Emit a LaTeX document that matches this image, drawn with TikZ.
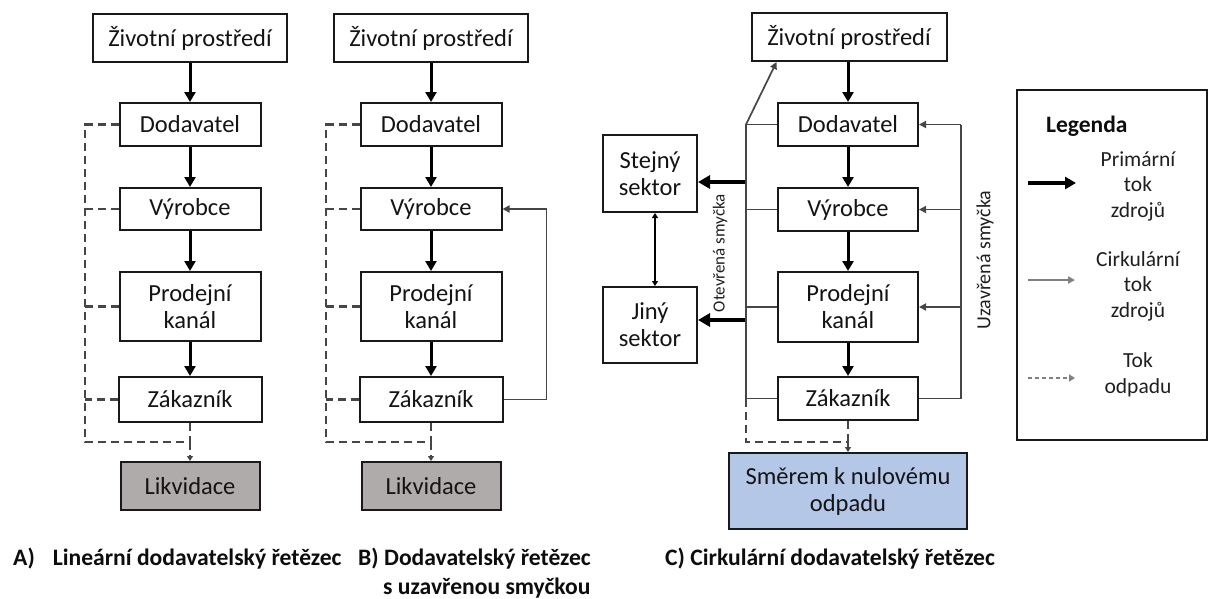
\documentclass[tikz,border=0pt]{standalone}
\usepackage{fontspec}
\setmainfont{Carlito}
\usetikzlibrary{arrows.meta}
\definecolor{boxline}{RGB}{25,25,25}
\definecolor{likgray}{RGB}{175,171,170}
\definecolor{smerblue}{RGB}{180,199,231}
\definecolor{circgray}{RGB}{70,70,70}
\definecolor{wastegray}{RGB}{70,70,70}
\begin{document}
\begin{tikzpicture}[x=1pt,y=-1pt,
  box/.style={draw=boxline,line width=2pt,fill=white,inner sep=0pt,align=center,text=black!92,font=\fontsize{24.5}{27}\selectfont},
  primary/.style={line width=3pt,-{Triangle[length=10pt,width=11pt]}},
  sectorarrow/.style={line width=3.4pt,-{Triangle[length=12pt,width=13pt]}},
  circ/.style={draw=circgray,line width=1.7pt},
  circarrow/.style={circ,-{Triangle[length=7pt,width=7pt]}},
  waste/.style={draw=wastegray,line width=2.4pt,dash pattern=on 8pt off 5pt},
  wastearrow/.style={waste,-{Triangle[length=5pt,width=6pt]}},
  caption/.style={font=\bfseries\fontsize{23.6}{27}\selectfont,inner sep=0pt,anchor=base west,text=black!95},
  legtext/.style={align=center,inner sep=0pt,text=black!88,font=\fontsize{21.5}{25.5}\selectfont}
]
\useasboundingbox (0,0) rectangle (1211,598);

% ---------- Panels A and B ----------
\foreach \p/\dx in {A/0,B/241}{
  \node[box,minimum width=194pt,minimum height=48pt] (env\p) at (190+\dx,38) {Životní prostředí};
  \node[box,minimum width=141pt,minimum height=43pt] (dod\p) at (190+\dx,124.5) {Dodavatel};
  \node[box,minimum width=141pt,minimum height=42pt] (vyr\p) at (190+\dx,209) {Výrobce};
  \node[box,minimum width=141pt,minimum height=69pt] (pro\p) at (190+\dx,306.5) {Prodejní\\kanál};
  \node[box,minimum width=143pt,minimum height=45pt] (zak\p) at (190+\dx,399.5) {Zákazník};
  \node[box,fill=likgray,minimum width=139pt,minimum height=48pt] (lik\p) at (190+\dx,486) {Likvidace};
  \draw[primary] (env\p) -- (dod\p);
  \draw[primary] (dod\p) -- (vyr\p);
  \draw[primary] (vyr\p) -- (pro\p);
  \draw[primary] (pro\p) -- (zak\p);
  \coordinate (cor\p) at (85+\dx,442);
  \coordinate (mid\p) at (190+\dx,442);
  \draw[waste] (dod\p.west) -| (cor\p) -- (mid\p);
  \draw[waste] (vyr\p.west) -- (vyr\p.west -| cor\p);
  \draw[waste] (pro\p.west) -- (pro\p.west -| cor\p);
  \draw[waste] (zak\p.west) -- (zak\p.west -| cor\p);
  \draw[waste] (zak\p.south) -- (mid\p);
  \draw[wastearrow] (mid\p) -- (lik\p.north);
}
% closed loop of panel B
\draw[circarrow] (zakB.east) -- ++(43,0) |- (vyrB.east);

% ---------- Panel C ----------
\node[box,minimum width=195pt,minimum height=48pt] (envC) at (849,37) {Životní prostředí};
\node[box,minimum width=140pt,minimum height=43pt] (dodC) at (848,124.5) {Dodavatel};
\node[box,minimum width=140pt,minimum height=43pt] (vyrC) at (848,209.5) {Výrobce};
\node[box,minimum width=140pt,minimum height=70pt] (proC) at (848,307) {Prodejní\\kanál};
\node[box,minimum width=140pt,minimum height=43pt] (zakC) at (848,398.5) {Zákazník};
\node[box,fill=smerblue,minimum width=238pt,minimum height=76pt] (smer) at (848,491) {Směrem k nulovému\\odpadu};
\node[box,minimum width=94pt,minimum height=77pt] (stej) at (650,173.5) {Stejný\\sektor};
\node[box,minimum width=94pt,minimum height=76pt] (jiny) at (650,325) {Jiný\\sektor};

\draw[primary] (envC.south -| dodC) -- (dodC);
\draw[primary] (dodC) -- (vyrC);
\draw[primary] (vyrC) -- (proC);
\draw[primary] (proC) -- (zakC);

% open loop
\coordinate (oTop) at (746,124.5);
\coordinate (oBot) at (746,398.5);
\draw[circ] (dodC.west) -- (oTop) -- (oBot) -- (zakC.west);
\draw[circ] (vyrC.west) -- (vyrC.west -| oTop);
\draw[circ] (proC.west) -- (proC.west -| oTop);
\draw[circarrow] (oTop) -- ([xshift=26pt]envC.south west);
\coordinate (oS) at (745,182);
\coordinate (oJ) at (745,320);
\draw[sectorarrow] (oS) -- (oS -| stej.east);
\draw[sectorarrow] (oJ) -- (oJ -| jiny.east);
\draw[line width=1.9pt,{Triangle[length=5pt,width=6pt]}-{Triangle[length=5pt,width=6pt]}] ([xshift=5pt]stej.south) -- ([xshift=5pt]jiny.north);
\node[rotate=90,inner sep=0pt,text=black!88,font=\fontsize{17}{19}\selectfont] (otev) at (720,253) {Otevřená smyčka};

% waste in C
\coordinate (corC) at (746,442);
\coordinate (midC) at (848,442);
\draw[waste] (oBot) -- (corC) -- (midC);
\draw[waste] (zakC.south) -- (midC);
\draw[wastearrow] (midC) -- (smer.north);

% closed loop in C
\coordinate (cTop) at (961,124.5);
\coordinate (cBot) at (961,398.5);
\draw[circ] (zakC.east) -- (cBot) -- (cTop);
\draw[circarrow] (cTop) -- (dodC.east);
\draw[circarrow] (vyrC.east -| cTop) -- (vyrC.east);
\draw[circarrow] (proC.east -| cTop) -- (proC.east);
\node[rotate=90,inner sep=0pt,text=black!88,font=\fontsize{20}{22}\selectfont] (uzav) at (985,260) {Uzavřená smyčka};

% ---------- Legend ----------
\node[draw=boxline,line width=2pt,minimum width=190pt,minimum height=350pt,inner sep=0pt] (leg) at (1112,265) {};
\node[inner sep=0pt,anchor=west,text=black!95,font=\bfseries\fontsize{23.5}{27}\selectfont] (legt) at (1046,126) {Legenda};
\node[legtext] (l1) at (1138,186) {Primární\\tok\\zdrojů};
\node[legtext] (l2) at (1138,286) {Cirkulární\\tok\\zdrojů};
\node[legtext] (l3) at (1138,375) {Tok\\odpadu};
\coordinate (s1a) at (1028,183); \coordinate (s1b) at (1076,183);
\coordinate (s2a) at (1028,280); \coordinate (s2b) at (1075,280);
\coordinate (s3a) at (1028,378); \coordinate (s3b) at (1075,378);
\draw[line width=3.5pt,-{Triangle[length=11pt,width=12pt]}] (s1a) -- (s1b);
\draw[circarrow,draw=gray] (s2a) -- (s2b);
\draw[draw=gray,line width=1.8pt,dash pattern=on 4pt off 3pt,-{Triangle[length=6pt,width=7pt]}] (s3a) -- (s3b);

% ---------- Captions ----------
\node[caption] (capA) at (13,565) {A)\hspace{18pt}Lineární dodavatelský řetězec};
\node[caption] (capB1) at (358,565) {B) Dodavatelský řetězec};
\node[caption] (capB2) at (383,594) {s uzavřenou smyčkou};
\node[caption] (capC) at (665,565) {C) Cirkulární dodavatelský řetězec};
\end{tikzpicture}
\end{document}
